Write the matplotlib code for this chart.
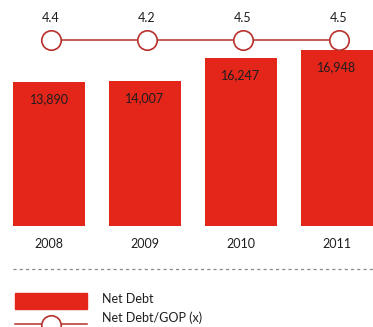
import numpy as np
import matplotlib
matplotlib.use("Agg")
import matplotlib.pyplot as plt
from matplotlib.patches import Rectangle
from matplotlib.lines import Line2D

years = ['2008', '2009', '2010', '2011']
net_debt = [13890, 14007, 16247, 16948]
debt_gop = [4.4, 4.2, 4.5, 4.5]

red = '#e3251a'
dark_red = '#b8302c'
txt = '#1e1e1e'
plt.rcParams['font.family'] = ['Lato', 'DejaVu Sans']

W, H = 373, 327
fig = plt.figure(figsize=(W / 100, H / 100), dpi=100)

# bars: zero line at y=226px, top of axes at the top of the figure
ax = fig.add_axes([0, (H - 226) / H, 1, 226 / H])
x = np.arange(len(years))
ax.bar(x, net_debt, width=0.75, color=red)
ax.set_xlim(-49 / 96, (W - 49) / 96)
ax.set_ylim(0, 226 / 0.01036)
for xi, v in zip(x, net_debt):
    ax.annotate(f'{v:,}', (xi, v), xytext=(0, -17), textcoords='offset pixels',
                ha='center', va='center', fontsize=9, color=txt)
    ax.annotate(years[xi], (xi, 0), xytext=(0, -18), textcoords='offset pixels',
                ha='center', va='center', fontsize=9, color=txt, annotation_clip=False)
ax.axis('off')

# ratio line, drawn as a flat row of markers above the bars
level = [0.5] * len(debt_gop)
ax2 = fig.add_axes([0, (H - 60) / H, 1, 40 / H])
ax2.set_xlim(ax.get_xlim())
ax2.set_ylim(0, 1)
ax2.plot(x + 0.02, level, color=dark_red, lw=1.1, marker='o', ms=14,
         mfc='white', mec=dark_red, mew=1.2)
for xi, v in zip(x, debt_gop):
    ax2.annotate(f'{v}', (xi + 0.02, 0.5), xytext=(0, 22), textcoords='offset pixels',
                 ha='center', va='center', fontsize=9, color=txt)
ax2.axis('off')

# dotted separator
fig.add_artist(Line2D([13 / W, 1], [(H - 269) / H] * 2, color='#8a8a8a',
                      lw=0.9, ls=(0, (2.5, 2.5))))

# legend
fig.add_artist(Rectangle((15 / W, (H - 309) / H), 72 / W, 16 / H, color=red))
fig.text(102 / W, (H - 299) / H, 'Net Debt', fontsize=9, color=txt, va='center')
fig.add_artist(Line2D([15 / W, 87 / W], [(H - 324) / H] * 2, color=dark_red, lw=1.1))
fig.add_artist(Line2D([51 / W], [(H - 325) / H], marker='o', ms=14, mfc='white',
                      mec=dark_red, mew=1.2))
fig.text(102 / W, (H - 318) / H, 'Net Debt/GOP (x)', fontsize=9, color=txt, va='center')

fig.savefig('out.png', dpi=100)
